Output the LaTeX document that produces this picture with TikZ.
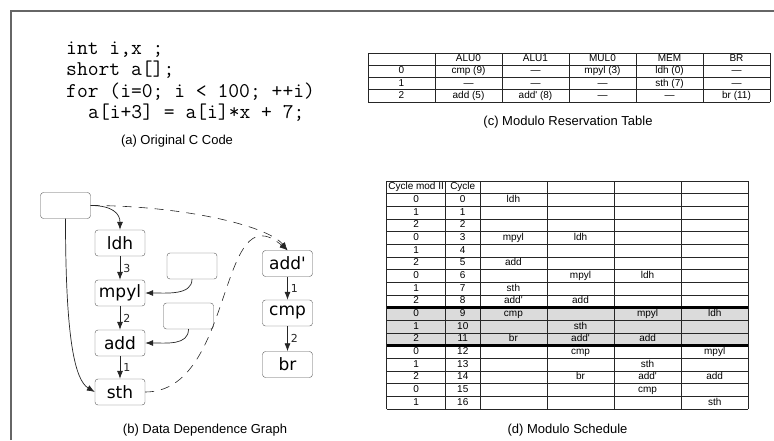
\documentclass[tikz,border=0pt]{standalone}
\usepackage{fontspec}
\setmainfont{Liberation Sans}
\newfontfamily\ddgfont{DejaVu Sans}
\usetikzlibrary{arrows.meta,calc,positioning}

\tikzset{
  op/.style={draw=black!65,rounded corners=3pt,minimum width=50pt,minimum height=26pt,
    inner sep=0pt,font=\ddgfont\fontsize{17}{17}\selectfont},
  dep/.style={-{Latex[length=8pt,width=6pt]},black!85,line width=0.7pt},
  memdep/.style={dep,dash pattern=on 9pt off 7pt,line width=0.6pt},
  lat/.style={right,xshift=2pt,inner sep=1pt,font=\ddgfont\fontsize{11}{11}\selectfont},
  subcap/.style={font=\fontsize{13}{15}\selectfont},
  srcline/.style={anchor=base west,inner sep=0pt,font=\ttfamily\fontsize{21}{21}\selectfont},
  cell/.style={inner sep=0pt,text height=7pt,text depth=2pt,font=\fontsize{10}{10}\selectfont},
  tabrule/.style={black!85,line width=0.6pt},
}

\begin{document}
\begin{tikzpicture}[x=1pt,y=-1pt]
\useasboundingbox (0,0) rectangle (774,440);
\draw[black!60,line width=1.2pt] (11,440) -- (11,11) -- (774,11);

% (a) source
\node[srcline] (l1) at (66,54) {int i,x ;};
\node[srcline] (l2) at (66,75.5) {short a[];};
\node[srcline] (l3) at (66,97) {for (i=0; i < 100; ++i)};
\node[srcline] (l4) at (88,118.5) {a[i+3] = a[i]*x + 7;};
\node[subcap] (capa) at (177,141) {(a) Original C Code};

% (c) reservation table
\foreach \xx in {0,...,6}
  \draw[tabrule] (368+67*\xx,53) -- (368+67*\xx,102);
\foreach \yy in {0,...,4}
  \draw[tabrule] (368,53+12.25*\yy) -- (770,53+12.25*\yy);
\foreach \row [count=\r from 0] in {{{},ALU0,ALU1,MUL0,MEM,BR},
    {0,cmp (9),---,mpyl (3),ldh (0),---},
    {1,---,---,---,sth (7),---},
    {2,add (5),add\textquotesingle{} (8),---,---,br (11)}}
  \foreach \a [count=\k from 0] in \row
    \node[cell] (mrt-\r-\k) at (401.5+67*\k,59.1+12.25*\r) {\a};
\node[subcap] (capc) at (568,122) {(c) Modulo Reservation Table};

% (b) dependence graph
\node[op] (src) at (65.5,205.5) {};
\node[op] (ldh) at (120,243) {ldh};
\node[op] (mpyl) at (120,293) {mpyl};
\node[op] (add) at (120,343) {add};
\node[op] (sth) at (120,392) {sth};
\node[op] (inx) at (192,266) {};
\node[op] (inc) at (188.5,316) {};
\node[op] (addp) at (287.5,263.5) {add\textquotesingle};
\node[op] (cmp) at (287.5,313) {cmp};
\node[op] (br) at (287.5,364.5) {br};

\draw[dep] (ldh) -- node[lat]{3} (mpyl);
\draw[dep] (mpyl) -- node[lat]{2} (add);
\draw[dep] (add) -- node[lat]{1} (sth);
\draw[dep] (addp) -- node[lat]{1} (cmp);
\draw[dep] (cmp) -- node[lat]{2} (br);
\draw[dep] (src.east) .. controls +(22,0) and +(0,-16) .. (ldh.north);
\draw[dep] (src.south) .. controls +(0,120) and +(-20,-12) .. (sth.west);
\draw[dep] (inx.south) .. controls +(0,16) and +(22,0) .. (mpyl.east);
\draw[dep] (inc.south) .. controls +(0,16) and +(22,0) .. (add.east);
\draw[memdep] (src.east) .. controls +(90,0) and +(-20,-25) .. (addp.north);
\draw[memdep] (sth.east) .. controls +(90,0) and +(-70,-60) .. (addp.north);
\node[subcap] (capb) at (205,430) {(b) Data Dependence Graph};

% (d) modulo schedule
\fill[black!14] (386.5,307.7) rectangle (748,345.7);
\foreach \yy in {0,...,18}
  \draw[tabrule] (386.5,181+12.67*\yy) -- (748,181+12.67*\yy);
\foreach \xx in {386.5,445.7,479.8,547,614,681,748}
  \draw[tabrule] (\xx,181) -- (\xx,409);
\draw[line width=3pt] (386.5,307.7) -- (748,307.7);
\draw[line width=3pt] (386.5,345.7) -- (748,345.7);
\node[cell] (ms-h-0) at (416.1,187.3) {Cycle mod II};
\node[cell] (ms-h-1) at (462.75,187.3) {Cycle};
\foreach \c in {0,...,16}{
  \pgfmathtruncatemacro\m{mod(\c,3)}
  \node[cell] (ms-\c-0) at (416.1,200+12.67*\c) {\m};
  \node[cell] (ms-\c-1) at (462.75,200+12.67*\c) {\c};
}
\foreach \c/\k/\t in {0/2/ldh,3/2/mpyl,3/3/ldh,5/2/add,6/3/mpyl,6/4/ldh,7/2/sth,
    8/2/add\textquotesingle,8/3/add,9/2/cmp,9/4/mpyl,9/5/ldh,10/3/sth,11/2/br,
    11/3/add\textquotesingle,11/4/add,12/3/cmp,12/5/mpyl,13/4/sth,14/3/br,
    14/4/add\textquotesingle,14/5/add,15/4/cmp,16/5/sth}
  \node[cell] (ms-\c-\k) at (513.4+67.1*\k-134.2,200+12.67*\c) {\t};
\node[subcap] (capd) at (567.5,430) {(d) Modulo Schedule};
\end{tikzpicture}
\end{document}
